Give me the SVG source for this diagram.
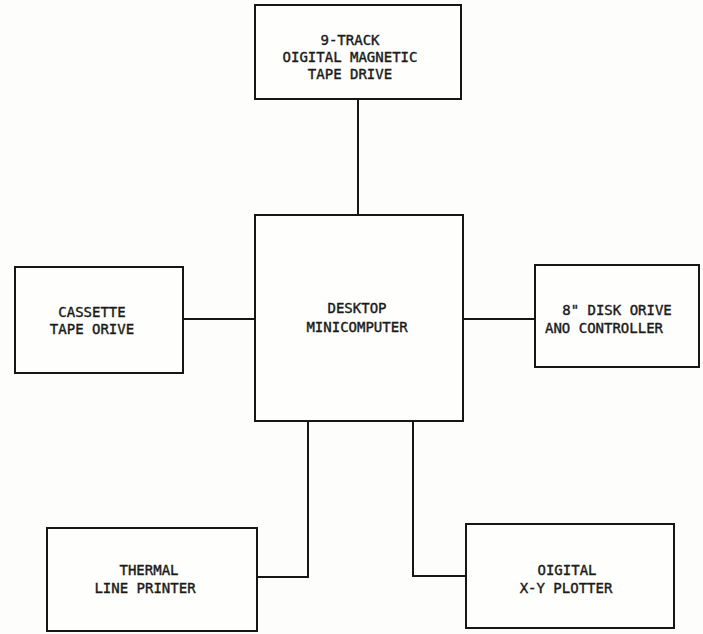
<svg xmlns="http://www.w3.org/2000/svg" width="703" height="634" viewBox="0 0 703 634">
<style>
.box{fill:#fefefc;stroke:#161616;stroke-width:2}
.c{fill:none;stroke:#161616;stroke-width:2}
text{font-family:"DejaVu Sans Mono","Liberation Mono",monospace;font-size:14px;fill:#1a1a1a;stroke:#1a1a1a;stroke-width:0.4;text-anchor:middle}
</style>
<rect width="703" height="634" fill="#fdfdfb"/>
<g id="connectors">
<line class="c" x1="358" y1="99" x2="358" y2="215"/>
<line class="c" x1="183" y1="319" x2="255" y2="319"/>
<line class="c" x1="463" y1="319" x2="535" y2="319"/>
<polyline class="c" points="308,421 308,577 257,577"/>
<polyline class="c" points="413,421 413,576 466,576"/>
</g>
<g id="tape9">
<rect class="box" x="255" y="5" width="206" height="94"/>
<text x="350" y="45">9-TRACK</text>
<text x="350" y="62">OIGITAL MAGNETIC</text>
<text x="350" y="79">TAPE DRIVE</text>
</g>
<g id="computer">
<rect class="box" x="255" y="215" width="208" height="206"/>
<text x="357" y="313">DESKTOP</text>
<text x="357" y="332">MINICOMPUTER</text>
</g>
<g id="cassette">
<rect class="box" x="15" y="267" width="168" height="106"/>
<text x="92" y="317">CASSETTE</text>
<text x="92" y="334">TAPE ORIVE</text>
</g>
<g id="disk">
<rect class="box" x="535" y="265" width="164" height="102"/>
<text x="617" y="315">8" DISK ORIVE</text>
<text x="604" y="333">ANO CONTROLLER</text>
</g>
<g id="printer">
<rect class="box" x="47" y="528" width="210" height="103"/>
<text x="149" y="575">THERMAL</text>
<text x="145" y="593">LINE PRINTER</text>
</g>
<g id="plotter">
<rect class="box" x="466" y="524" width="208" height="104"/>
<text x="567" y="575">OIGITAL</text>
<text x="566" y="593">X-Y PLOTTER</text>
</g>
</svg>
